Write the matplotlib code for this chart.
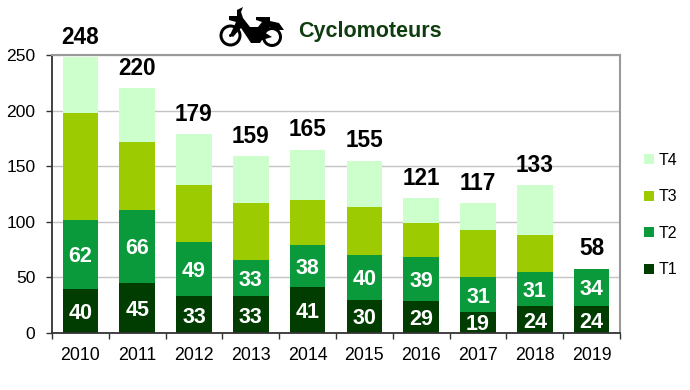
"""Stacked bars of moped counts per quarter, 2010-2019."""

import matplotlib.pyplot as plt
import numpy as np
from matplotlib.patches import Circle, Polygon

plt.rcParams["font.family"] = ["Liberation Sans", "DejaVu Sans"]

YEARS = ["2010", "2011", "2012", "2013", "2014", "2015", "2016", "2017", "2018", "2019"]
T1 = [40, 45, 33, 33, 41, 30, 29, 19, 24, 24]
T2 = [62, 66, 49, 33, 38, 40, 39, 31, 31, 34]
T3 = [96, 61, 51, 51, 41, 43, 31, 43, 33, 0]
T4 = [50, 48, 46, 42, 45, 42, 22, 24, 45, 0]
TOTALS = [248, 220, 179, 159, 165, 155, 121, 117, 133, 58]
Y_TICKS = [0, 50, 100, 150, 200, 250]

COLORS = {"T1": "#013d01", "T2": "#0a9a3c", "T3": "#9bcb00", "T4": "#ccffcc"}
W, H = 690, 390


def draw_moped(fig):
    # overlay axes in pixel coordinates, y pointing down like the image
    ax = fig.add_axes([0, 0, 1, 1], zorder=5)
    ax.set_xlim(0, W)
    ax.set_ylim(H, 0)
    ax.axis("off")
    for cx, cy, r in [(230.5, 35.5, 11), (272, 37, 10)]:
        ax.add_patch(Circle((cx, cy), r, fc="black", ec="none"))
        ax.add_patch(Circle((cx, cy), r - 3, fc="white", ec="none"))
    ax.add_patch(Circle((230.5, 35.5), 1.5, fc="black", ec="none"))
    body = [(230, 35), (236, 22), (229, 20), (229, 16), (237, 16), (237, 10), (243, 7),
            (241, 12), (243, 18), (250, 27), (258, 27), (262, 22), (256, 20), (256, 17),
            (270, 17), (270, 21), (279, 23), (284, 30), (278, 30), (270, 27), (264, 32),
            (272, 37), (262, 40), (260, 43), (251, 43), (241, 28), (233, 37)]
    ax.add_patch(Polygon(body, closed=True, fc="black", ec="none"))


def main():
    fig = plt.figure(figsize=(W / 100, H / 100), dpi=100)
    ax = fig.add_axes([52 / W, 1 - 333 / H, (620 - 52) / W, (333 - 55) / H])

    x = np.arange(len(YEARS))
    bottom = np.zeros(len(YEARS))
    series = {"T1": T1, "T2": T2, "T3": T3, "T4": T4}
    handles = {}
    for name, values in series.items():
        bars = ax.bar(x, values, width=0.63, bottom=bottom, color=COLORS[name],
                      label=name, zorder=2)
        handles[name] = bars
        if name in ("T1", "T2"):
            for xi, b, v in zip(x, bottom, values):
                ax.text(xi, b + v / 2, str(v), ha="center", va="center_baseline",
                        color="white", fontsize=15.5, fontweight="bold", zorder=3)
        bottom += values

    for xi, top, total in zip(x, bottom, TOTALS):
        ax.text(xi, top + 20, str(total), ha="center", va="center_baseline",
                color="black", fontsize=16.3, fontweight="bold", zorder=3, clip_on=False)

    ax.set_xlim(-0.5, len(YEARS) - 0.5)
    ax.set_ylim(0, 250)
    ax.set_yticks(Y_TICKS)
    ax.set_xticks(x, YEARS)
    ax.set_xticks(np.arange(len(YEARS) + 1) - 0.5, minor=True)
    ax.tick_params(axis="x", which="major", length=0, labelsize=12.8, pad=10)
    ax.tick_params(axis="x", which="minor", length=4, width=1, color="#333333")
    ax.tick_params(axis="y", length=4, width=1, color="#333333", labelsize=12.6, pad=8)
    ax.grid(axis="y", color="#c4c4c4", linewidth=1, zorder=0)
    ax.set_axisbelow(True)

    for side in ("left", "bottom"):
        ax.spines[side].set_color("#333333")
        ax.spines[side].set_linewidth(1.3)
    for side in ("top", "right"):
        ax.spines[side].set_color("#999999")
        ax.spines[side].set_linewidth(1.5)

    order = ["T4", "T3", "T2", "T1"]
    ax.legend([handles[n] for n in order], order, loc="center left",
              bbox_to_anchor=(644 / W, 1 - 215 / H), bbox_transform=fig.transFigure,
              frameon=False, fontsize=11.5, handlelength=0.6, handleheight=0.6,
              handletextpad=0.3, labelspacing=1.35, borderpad=0, borderaxespad=0)

    fig.text(298 / W, 1 - 31 / H, "Cyclomoteurs", ha="left", va="center",
             color="#0f3d0f", fontsize=15.5, fontweight="bold")
    draw_moped(fig)

    fig.savefig("out.png", dpi=100)
    plt.close(fig)


if __name__ == "__main__":
    main()
